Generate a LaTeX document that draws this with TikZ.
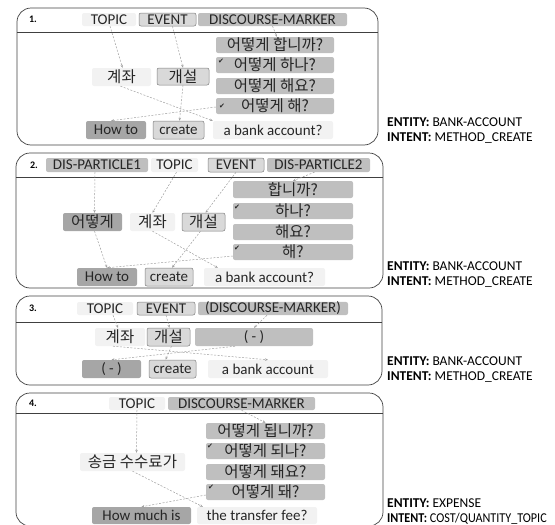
\documentclass[tikz,border=0pt]{standalone}
\usepackage{fontspec}
\setmainfont{Carlito}
\newfontfamily\kr{Noto Sans CJK KR}
\newfontfamily\dv{DejaVu Sans}
\usetikzlibrary{arrows.meta}
\definecolor{cL}{HTML}{F2F2F2}
\definecolor{cE}{HTML}{D9D9D9}
\definecolor{cB}{HTML}{7F7F7F}
\definecolor{cM}{HTML}{BFBFBF}
\definecolor{cD}{HTML}{A6A6A6}
\definecolor{cA}{HTML}{A0A0A0}
\definecolor{cT}{HTML}{262626}
\newcommand\bx[7]{\node[#6, minimum width={(#4-#2)*1pt}, minimum height={(#5-#3)*1pt}] (#1) at ({(#2+#4)/2},{(#3+#5)/2}) {#7};}
\tikzset{
 bb/.style={inner sep=0pt, rounded corners=2pt, text=cT, font=\fontsize{15}{17}\selectfont},
 lt/.style={bb, fill=cL},
 ev/.style={bb, fill=cE, draw=cB, line width=0.5pt},
 dm/.style={bb, fill=cM},
 dk/.style={bb, fill=cD},
 ko/.style={font=\kr\fontsize{15.5}{17}\selectfont},
 arr/.style={draw=cA, dash pattern=on 2pt off 1.5pt, line width=0.5pt, -{Stealth[length=3pt,width=2.5pt]}},
 panel/.style={draw=black!75, line width=0.7pt, rounded corners=14pt},
 num/.style={font=\bfseries\fontsize{10}{11}\selectfont, inner sep=0pt},
 ck/.style={font=\dv\fontsize{7}{7}\selectfont, inner sep=0pt, text=cT},
 info/.style={font=\fontsize{13.5}{16}\selectfont, anchor=west, inner sep=0pt, text=black}
}
\begin{document}
\begin{tikzpicture}[x=1pt,y=-1pt]
\useasboundingbox (0,0) rectangle (555,525);
% ---------- panel 1
\draw[panel] (17,8) rectangle (378,145);
\draw[black!75, line width=0.6pt] (17,32) -- (378,32);
\node[num] (p1n) at (33,19) {1.};
\bx{p1t}{82}{13}{136}{26}{lt}{TOPIC}
\bx{p1e}{139}{13}{196}{26}{ev}{EVENT}
\bx{p1d}{198}{13}{347}{26}{dm}{DISCOURSE-MARKER}
\bx{p1r1}{216}{37}{334}{53}{dm,ko}{어떻게 합니까?}
\bx{p1r2}{216}{57}{334}{73}{dm,ko}{어떻게 하나?}
\bx{p1r3}{216}{78}{334}{94}{dm,ko}{어떻게 해요?}
\bx{p1r4}{216}{98}{334}{114}{dm,ko}{어떻게 해?}
\node[ck] (p1k2) at (221,61) {✔};
\node[ck] (p1k4) at (222,106) {✔};
\bx{p1g}{92}{68}{151}{86}{lt,ko}{계좌}
\bx{p1s}{157}{68}{209}{85}{ev,ko}{개설}
\bx{p1h}{86}{121}{146}{139}{dk}{How to}
\bx{p1c}{153}{121}{204}{139}{ev}{create}
\bx{p1b}{213}{121}{333}{139}{lt}{a bank account?}
\draw[arr] ([xshift=1pt]p1t.south) -- ([xshift=1pt]p1g.north);
\draw[arr] ([xshift=5pt]p1e.south) -- (p1s.north);
\draw[arr] (p1d.south) -- ([xshift=2pt]p1r1.north);
\draw[arr] ([xshift=-1pt]p1g.south) -- (p1b.north west);
\draw[arr] (p1s.south) -- ([xshift=1pt]p1c.north);
\draw[arr] ([yshift=-1pt]p1r4.west) -- ([xshift=-5pt]p1h.north);
\node[info] (p1i1) at (387,122) {\textbf{ENTITY:} BANK-ACCOUNT};
\node[info] (p1i2) at (387,138) {\textbf{INTENT:} METHOD\_CREATE};
% ---------- panel 2
\draw[panel] (16,153) rectangle (383,288);
\draw[black!75, line width=0.6pt] (16,177) -- (383,177);
\node[num] (p2n) at (34,165) {2.};
\bx{p2a}{46}{158}{148}{172}{dm}{DIS-PARTICLE1}
\bx{p2t}{151}{158}{198}{172}{lt}{TOPIC}
\bx{p2e}{208}{158}{264}{172}{ev}{EVENT}
\bx{p2d}{267}{158}{370}{172}{dm}{DIS-PARTICLE2}
\bx{p2r1}{233}{181}{353}{198}{dm,ko}{합니까?}
\bx{p2r2}{233}{203}{353}{219}{dm,ko}{하나?}
\bx{p2r3}{233}{224}{353}{240}{dm,ko}{해요?}
\bx{p2r4}{233}{244}{353}{260}{dm,ko}{해?}
\node[ck] (p2k2) at (237,207) {✔};
\node[ck] (p2k4) at (237,248) {✔};
\bx{p2w}{63}{213}{122}{231}{dk,ko}{어떻게}
\bx{p2g}{130}{213}{175}{231}{lt,ko}{계좌}
\bx{p2s}{182}{213}{225}{231}{ev,ko}{개설}
\bx{p2h}{77}{268}{137}{286}{dk}{How to}
\bx{p2c}{145}{268}{193}{286}{ev}{create}
\bx{p2b}{204}{268}{325}{286}{lt}{a bank account?}
\draw[arr] ([xshift=-2pt]p2a.south) -- ([xshift=2pt]p2w.north);
\draw[arr] ([xshift=2pt]p2t.south) -- (p2g.north);
\draw[arr] (p2e.south) -- ([xshift=2pt]p2s.north);
\draw[arr] ([xshift=-4pt]p2d.south) -- (p2r1.north);
\draw[arr] ([xshift=2pt]p2w.south) -- (p2h.north);
\draw[arr] (p2g.south) -- ([xshift=14pt]p2b.north west);
\draw[arr] ([xshift=-3pt]p2s.south) -- ([xshift=3pt]p2c.north);
\draw[arr] ([yshift=-4pt]p2r4.west) -- (p2h.north);
\node[info] (p2i1) at (387,266) {\textbf{ENTITY:} BANK-ACCOUNT};
\node[info] (p2i2) at (387,282) {\textbf{INTENT:} METHOD\_CREATE};
% ---------- panel 3
\draw[panel] (16,296) rectangle (382,385);
\draw[black!75, line width=0.6pt] (16,322) -- (382,322);
\node[num] (p3n) at (33,308) {3.};
\bx{p3t}{77}{302}{133}{315}{lt}{TOPIC}
\bx{p3e}{137}{302}{195}{315}{ev}{EVENT}
\bx{p3d}{198}{302}{348}{315}{dm}{(DISCOURSE-MARKER)}
\bx{p3g}{95}{328}{145}{346}{lt,ko}{계좌}
\bx{p3s}{147}{328}{190}{346}{ev,ko}{개설}
\bx{p3m}{195}{328}{313}{346}{dm}{( - )}
\bx{p3h}{82}{360}{141}{378}{dk}{( - )}
\bx{p3c}{149}{360}{196}{378}{ev}{create}
\bx{p3b}{208}{360}{328}{378}{lt}{a bank account}
\draw[arr] ([xshift=8pt]p3t.south) -- ([xshift=-2pt]p3g.north);
\draw[arr] (p3e.south) -- ([xshift=1pt]p3s.north);
\draw[arr] ([xshift=-6pt]p3d.south) -- (p3m.north);
\draw[arr] ([xshift=-7pt]p3g.south) -- (p3b.north);
\draw[arr] ([xshift=3pt]p3s.south) -- ([xshift=-7pt]p3c.north);
\draw[arr] ([xshift=-19pt]p3m.south) -- (p3h.north);
\node[info] (p3i1) at (387,361) {\textbf{ENTITY:} BANK-ACCOUNT};
\node[info] (p3i2) at (387,377) {\textbf{INTENT:} METHOD\_CREATE};
% ---------- panel 4
\draw[panel] (16,393) rectangle (383,526);
\draw[black!75, line width=0.6pt] (16,413) -- (383,413);
\node[num] (p4n) at (33,403) {4.};
\bx{p4t}{109}{397}{165}{410}{lt}{TOPIC}
\bx{p4d}{168}{397}{315}{410}{dm}{DISCOURSE-MARKER}
\bx{p4r1}{206}{423}{325}{439}{dm,ko}{어떻게 됩니까?}
\bx{p4r2}{206}{443}{325}{459}{dm,ko}{어떻게 되나?}
\bx{p4r3}{206}{464}{325}{480}{dm,ko}{어떻게 돼요?}
\bx{p4r4}{206}{484}{325}{500}{dm,ko}{어떻게 돼?}
\node[ck] (p4k2) at (210,446) {✔};
\node[ck] (p4k4) at (211,487) {✔};
\bx{p4g}{80}{453}{185}{471}{lt,ko}{송금 수수료가}
\bx{p4h}{92}{507}{191}{524}{dk}{How much is}
\bx{p4b}{197}{507}{317}{524}{lt}{the transfer fee?}
\draw[arr] (p4t.south) -- ([xshift=4pt]p4g.north);
\draw[arr] (p4d.south) -- (p4r1.north);
\draw[arr] (p4g.south) -- ([xshift=6pt]p4b.north west);
\draw[arr] ([yshift=-3pt]p4r4.west) -- (p4h.north);
\node[info] (p4i1) at (387,503) {\textbf{ENTITY:} EXPENSE};
\node[info] (p4i2) at (387,519) {\scalebox{0.9}[1]{\textbf{INTENT:} COST/QUANTITY\_TOPIC}};
\end{tikzpicture}
\end{document}
